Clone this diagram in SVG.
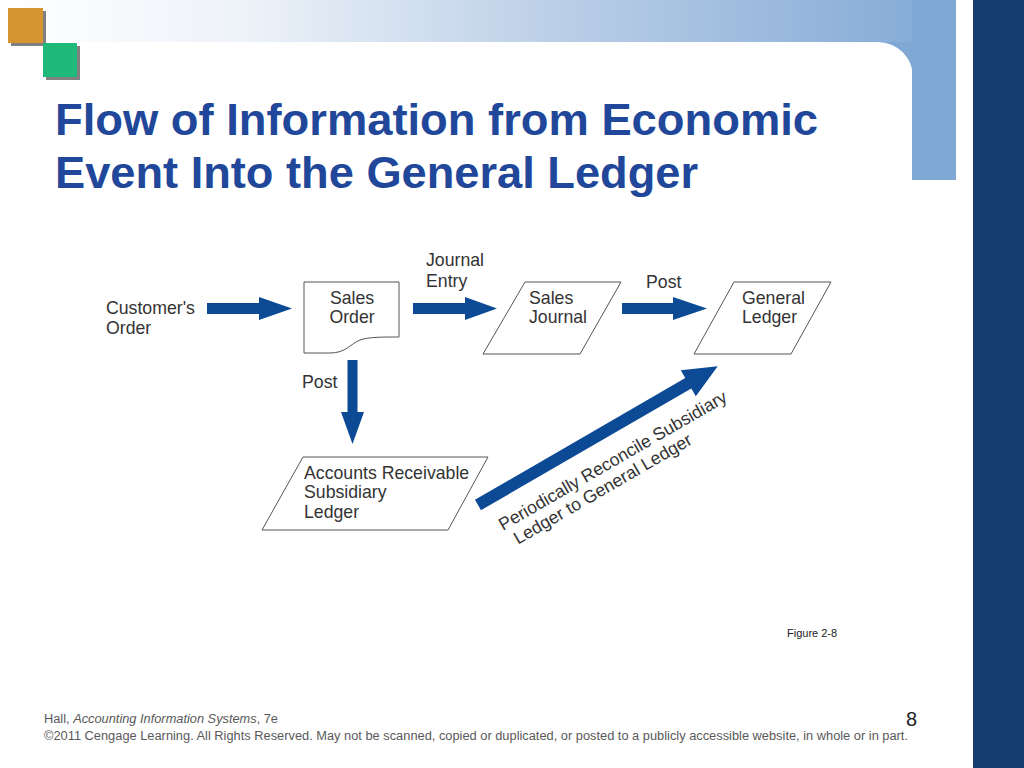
<svg xmlns="http://www.w3.org/2000/svg" width="1024" height="768" viewBox="0 0 1024 768">
<defs>
<linearGradient id="band" x1="0" y1="0" x2="1" y2="0">
<stop offset="0" stop-color="#ffffff"/>
<stop offset="0.25" stop-color="#eef3f9"/>
<stop offset="0.6" stop-color="#b8cde6"/>
<stop offset="1" stop-color="#80a8d5"/>
</linearGradient>
<style>
.t{font-family:"Liberation Sans",Arial,sans-serif;font-size:17.7px;fill:#333333}
.shape{fill:#ffffff;stroke:#555555;stroke-width:1}
.arr{fill:#0c4a96}
.title{font-family:"Liberation Sans",Arial,sans-serif;font-size:44px;font-weight:bold;fill:#20479a}
.foot{font-family:"Liberation Sans",Arial,sans-serif;font-size:12px;fill:#595959}
</style>
</defs>
<rect width="1024" height="768" fill="#ffffff"/>
<g id="background">
<rect x="0" y="0" width="956" height="42" fill="url(#band)"/>
<rect x="912" y="0" width="44" height="180" fill="#80a8d5"/>
<path d="M878,42 A35,35 0 0 1 913,77 L913,42 Z" fill="#80a8d5"/>
<rect x="973" y="0" width="51" height="768" fill="#153d6f"/>
<rect x="11" y="11" width="35" height="35" fill="#808080"/>
<rect x="8" y="8" width="35" height="35" fill="#d6952f"/>
<rect x="46" y="46" width="34" height="34" fill="#808080"/>
<rect x="43" y="43" width="34" height="34" fill="#1fb97a"/>
</g>
<g id="title">
<text class="title" x="55" y="135" textLength="763" lengthAdjust="spacingAndGlyphs">Flow of Information from Economic</text>
<text class="title" x="55" y="188" textLength="643" lengthAdjust="spacingAndGlyphs">Event Into the General Ledger</text>
</g>
<g id="customers-order">
<text class="t" x="106" y="314">Customer's</text>
<text class="t" x="106" y="334">Order</text>
</g>
<g id="sales-order">
<path class="shape" d="M304,282 H399 V337 C382,337 368,337 360,340 C350,344 346,353 330,353 H304 Z"/>
<text class="t" x="352" y="304" text-anchor="middle">Sales</text>
<text class="t" x="352" y="323" text-anchor="middle">Order</text>
</g>
<g id="sales-journal">
<path class="shape" d="M525,282 H621 L580,354 H483 Z"/>
<text class="t" x="529" y="304">Sales</text>
<text class="t" x="529" y="323">Journal</text>
</g>
<g id="general-ledger">
<path class="shape" d="M734,282 H831 L791,354 H694 Z"/>
<text class="t" x="742" y="304">General</text>
<text class="t" x="742" y="323">Ledger</text>
</g>
<g id="ar-ledger">
<path class="shape" d="M303,457 H488 L448,530 H262 Z"/>
<text class="t" x="304" y="479">Accounts Receivable</text>
<text class="t" x="304" y="498">Subsidiary</text>
<text class="t" x="304" y="518">Ledger</text>
</g>
<g id="connectors">
<path class="arr" d="M207,303 H259 V297 L292,308.5 L259,320 V314 H207 Z"/>
<path class="arr" d="M413,303 H465 V297 L497,308.5 L465,320 V314 H413 Z"/>
<path class="arr" d="M622,303 H673 V297 L707,308.5 L673,320 V314 H622 Z"/>
<path class="arr" d="M347.5,360 H357.5 V412 H364 L352.5,444 L341,412 H347.5 Z"/>
<g transform="translate(478,505) rotate(-30.07)">
<path class="arr" d="M0,-6 H243 V-15 L277,0 L243,15 V6 H0 Z"/>
</g>
<text class="t" x="426" y="266">Journal</text>
<text class="t" x="426" y="287">Entry</text>
<text class="t" x="646" y="288">Post</text>
<text class="t" x="302" y="388">Post</text>
<g transform="translate(503,531) rotate(-30.07)">
<text class="t" x="0" y="0">Periodically Reconcile Subsidiary</text>
<text class="t" x="6" y="19.5">Ledger to General Ledger</text>
</g>
</g>
<g id="footer">
<text x="787" y="637" style="font-family:'Liberation Sans',Arial,sans-serif;font-size:11px;fill:#222">Figure 2-8</text>
<text class="foot" x="44" y="723" textLength="234" lengthAdjust="spacingAndGlyphs">Hall, <tspan font-style="italic">Accounting Information Systems</tspan>, 7e</text>
<text class="foot" x="44" y="740" textLength="864" lengthAdjust="spacingAndGlyphs">©2011 Cengage Learning. All Rights Reserved. May not be scanned, copied or duplicated, or posted to a publicly accessible website, in whole or in part.</text>
<text x="917" y="726" text-anchor="end" style="font-family:'Liberation Sans',Arial,sans-serif;font-size:20px;fill:#222">8</text>
</g>
</svg>
